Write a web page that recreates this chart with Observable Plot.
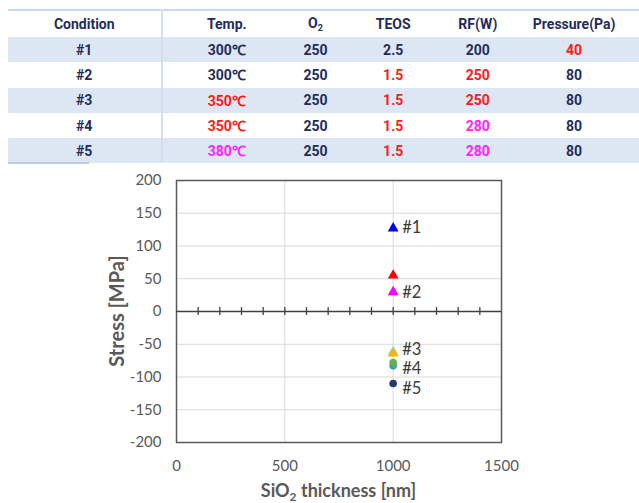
<!DOCTYPE html>
<html>
<head>
<meta charset="utf-8">
<script src="https://cdn.jsdelivr.net/npm/d3@7"></script>
<script src="https://cdn.jsdelivr.net/npm/@observablehq/plot@0.6"></script>
<style>
  html, body { margin: 0; padding: 0; background: #fff; width: 639px; height: 503px; overflow: hidden; }
  #tbl { position: absolute; left: 0; top: 0; width: 639px; height: 170px; }
  table { position: absolute; left: 8px; top: 9px; border-collapse: collapse; table-layout: fixed;
          font-family: Roboto, "Liberation Sans", sans-serif; font-weight: bold; font-size: 14px; color: #1f2d5c; }
  td { text-align: center; padding: 0; white-space: nowrap; overflow: visible; }
  tr.head td { height: 26px; }
  tr.row td { height: 25.3px; }
  tr.band td { background: #dde7f3; }
  td.c1 { border-right: 2px solid #d3e0f0; }
  #chart { position: absolute; left: 0; top: 170px; }
</style>
</head>
<body>
<div id="tbl"></div>
<div id="chart"></div>
<script>
// ---- table data ----
const headers = ["Condition", "Temp.", "O2", "TEOS", "RF(W)", "Pressure(Pa)"];
const conditions = ["#1", "#2", "#3", "#4", "#5"];
const temps = ["300℃", "300℃", "350℃", "350℃", "380℃"];
const o2 = ["250", "250", "250", "250", "250"];
const teos = ["2.5", "1.5", "1.5", "1.5", "1.5"];
const rf = ["200", "250", "250", "280", "280"];
const pressure = ["40", "80", "80", "80", "80"];
// which cells are highlighted (style keys)
const tempHi = ["n", "n", "r", "r", "m"];
const teosHi = ["n", "r", "r", "r", "r"];
const rfHi = ["n", "r", "r", "m", "m"];
const pressHi = ["r", "n", "n", "n", "n"];

// ---- chart data ----
const pointThickness = [1000, 1000, 1000, 1000, 1000, 1000, 1000, 1000, 1000];
const pointStress = [127, 55, 28, 30, -61, -64, -83, -78, -110];
const pointShape = ["triangle", "triangle", "triangle", "triangle", "triangle", "triangle", "circle", "circle", "circle"];
const pointColor = ["#0000ff", "#ff0000", "#9ddcec", "#ff00ff", "#9ddcec", "#f4b400", "#3aa3a8", "#6aab4a", "#213a6b"];
const labelText = ["#1", "#2", "#3", "#4", "#5"];
const labelThickness = [1000, 1000, 1000, 1000, 1000];
const labelStress = [128, 29, -58, -87, -118];
const xTicks = [0, 500, 1000, 1500];
const yTicks = [-200, -150, -100, -50, 0, 50, 100, 150, 200];
const minorX = [100, 200, 300, 400, 500, 600, 700, 800, 900, 1000, 1100, 1200, 1300, 1400];

// ---- build table ----
const colW = [158, 134, 50, 110, 64, 132];
const hiColor = {n: "#1f2d5c", r: "#ff1a1a", m: "#ff22ff"};
const table = document.createElement("table");
const cg = document.createElement("colgroup");
colW.forEach(w => { const c = document.createElement("col"); c.style.width = w + "px"; cg.appendChild(c); });
table.appendChild(cg);
const hr = document.createElement("tr");
hr.className = "head";
hr.style.borderTop = "2px solid #c8d8ec";
headers.forEach((h, i) => {
  const td = document.createElement("td");
  if (i === 0) td.className = "c1";
  if (h === "O2") td.innerHTML = 'O<sub style="font-size:9px;vertical-align:-3px">2</sub>';
  else td.textContent = h;
  hr.appendChild(td);
});
table.appendChild(hr);
conditions.forEach((c, i) => {
  const tr = document.createElement("tr");
  tr.className = "row" + (i % 2 === 0 ? " band" : "");
  const cells = [[c, "n"], [temps[i], tempHi[i]], [o2[i], "n"], [teos[i], teosHi[i]], [rf[i], rfHi[i]], [pressure[i], pressHi[i]]];
  cells.forEach(([v, h], j) => {
    const td = document.createElement("td");
    if (j === 0) td.className = "c1";
    td.textContent = v;
    td.style.color = hiColor[h];
    tr.appendChild(td);
  });
  table.appendChild(tr);
});
document.getElementById("tbl").appendChild(table);
const bl = document.createElement("div");
bl.style.cssText = "position:absolute;left:8px;top:162px;width:81px;height:2px;background:#b9cde6";
document.getElementById("tbl").appendChild(bl);

// ---- chart ----
const points = pointThickness.map((x, i) => ({x, y: pointStress[i], shape: pointShape[i], color: pointColor[i]}));
const labels = labelText.map((t, i) => ({t, x: labelThickness[i], y: labelStress[i]}));
const fmt = d => String(d);

const chart = Plot.plot({
  width: 639,
  height: 333,
  marginLeft: 176,
  marginRight: 138,
  marginTop: 10,
  marginBottom: 61,
  style: {fontFamily: "Lato, 'Liberation Sans', sans-serif", fontSize: "15px", color: "#595959", background: "transparent"},
  x: {domain: [0, 1500], ticks: xTicks},
  y: {domain: [-200, 200], ticks: yTicks},
  marks: [
    Plot.gridX(xTicks.filter(d => d > 0 && d < 1500), {stroke: "#d9d9d9", strokeOpacity: 1, strokeWidth: 1}),
    Plot.gridY(yTicks.filter(d => d > -200 && d < 200 && d !== 0), {stroke: "#d9d9d9", strokeOpacity: 1, strokeWidth: 1}),
    Plot.frame({stroke: "#595959", strokeWidth: 1.5}),
    Plot.ruleY([0], {stroke: "#404040", strokeWidth: 1.5}),
    Plot.ruleX(minorX, {y1: -6, y2: 6, stroke: "#404040", strokeWidth: 1.3}),
    Plot.axisX(xTicks, {tickSize: 0, tickPadding: 18, fontSize: 15, fill: "#595959", label: null, tickFormat: fmt}),
    Plot.axisY(yTicks, {tickSize: 0, tickPadding: 15, fontSize: 15, fill: "#595959", label: null, tickFormat: fmt}),
    Plot.dot(points.filter(d => d.shape === "triangle"), {x: "x", y: "y", symbol: "triangle", fill: "color", r: 4}),
    Plot.dot(points.filter(d => d.shape === "circle"), {x: "x", y: "y", symbol: "circle", fill: "color", r: 3.8}),
    Plot.text(labels, {x: "x", y: "y", text: "t", dx: 9, textAnchor: "start", fontSize: 16.5, fill: "#3a3a3a"})
  ]
});
document.getElementById("chart").appendChild(chart);

// axis titles with subscript
const svg = d3.select(chart);
const xt = svg.append("text")
  .attr("x", 338.5).attr("y", 327).attr("text-anchor", "middle")
  .attr("font-family", "Lato, 'Liberation Sans', sans-serif").attr("font-weight", "bold")
  .attr("font-size", 18).attr("fill", "#595959");
xt.append("tspan").text("SiO");
xt.append("tspan").attr("font-size", 12).attr("dy", 4).text("2");
xt.append("tspan").attr("dy", -4).text(" thickness [nm]");
svg.append("text")
  .attr("transform", "translate(117,141) rotate(-90)")
  .attr("text-anchor", "middle").attr("dy", "0.35em")
  .attr("font-family", "Lato, 'Liberation Sans', sans-serif").attr("font-weight", "bold")
  .attr("font-size", 20).attr("fill", "#595959")
  .text("Stress [MPa]");
</script>
</body>
</html>
